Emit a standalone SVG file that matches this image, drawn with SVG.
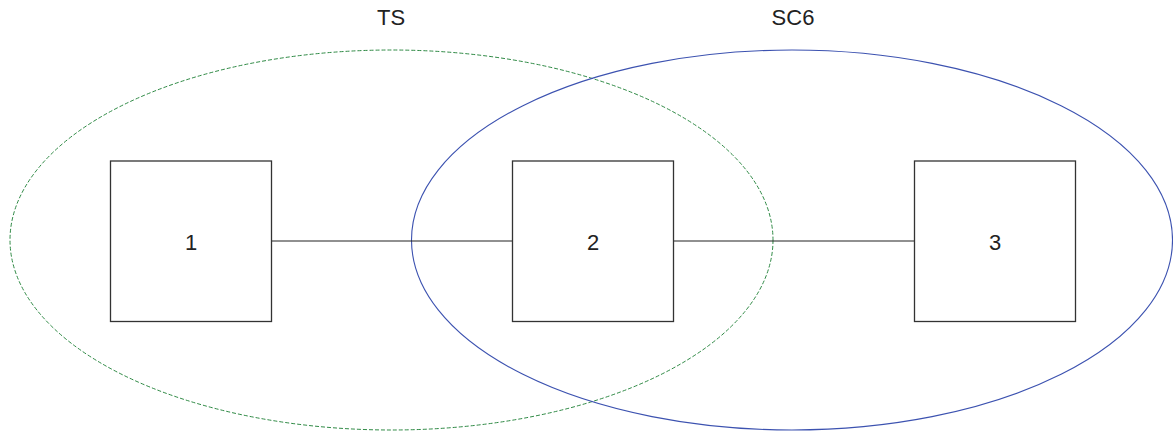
<svg xmlns="http://www.w3.org/2000/svg" width="1173" height="432" viewBox="0 0 1173 432">
<style>
.node rect{fill:none;stroke:#333;stroke-width:1.3}
text{font-family:"Liberation Sans",Arial,sans-serif;font-size:22px;fill:#222;text-anchor:middle}
.conn line{stroke:#222;stroke-width:1.2}
.ts{fill:none;stroke:#2f8a45;stroke-width:1;stroke-dasharray:4 2}
.sc6{fill:none;stroke:#3c52b0;stroke-width:1.1}
</style>
<rect width="1173" height="432" fill="#fff"/>
<g id="group-TS">
<ellipse class="ts" cx="391.5" cy="240" rx="381.5" ry="190"/>
<text x="391" y="25">TS</text>
</g>
<g id="group-SC6">
<ellipse class="sc6" cx="792" cy="240" rx="380.5" ry="190"/>
<text x="793" y="25">SC6</text>
</g>
<g class="conn" id="connectors">
<line x1="271.5" y1="241" x2="512.5" y2="241"/>
<line x1="673.5" y1="241" x2="914.5" y2="241"/>
</g>
<g class="node" id="node-1">
<rect x="110.5" y="161" width="161" height="160.5"/>
<text x="191" y="249.5">1</text>
</g>
<g class="node" id="node-2">
<rect x="512.5" y="161" width="161" height="160.5"/>
<text x="593" y="249.5">2</text>
</g>
<g class="node" id="node-3">
<rect x="914.5" y="161" width="161" height="160.5"/>
<text x="995" y="249.5">3</text>
</g>
</svg>
